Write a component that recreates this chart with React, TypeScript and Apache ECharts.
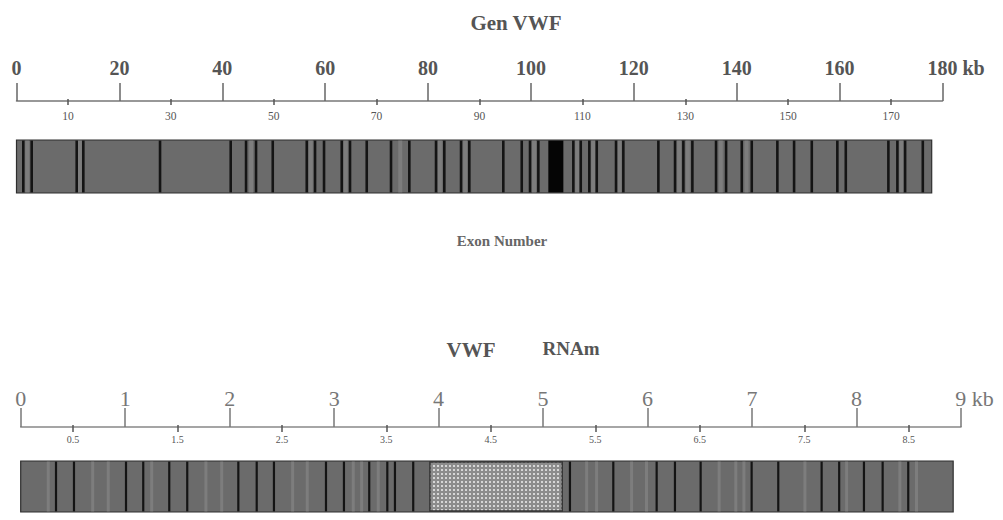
import React, { useEffect, useRef } from 'react';
import * as echarts from 'echarts';

// ---------- data ----------
const genTitle = 'Gen VWF';
const genMax = 180; // kb
const genMajorStep = 20;
const genMinorFirst = 10;
const genMinorLast = 170;
const genLength = 177.9;
const genExons = [1.32, 2.95, 11.7, 12.99, 27.9, 41.64, 44.62, 46.56, 49.81, 56.42, 58.03, 59.78, 63.22, 64.83, 68.08, 72.8, 76.36, 81.55, 83.16, 86.41, 88.02, 94.63, 98.21, 99.82, 101.44, 108.24, 109.68, 111.35, 112.79, 116.54, 117.96, 124.77, 128.01, 129.63, 131.38, 135.98, 137.93, 140.98, 142.92, 147.9, 151.15, 154.59, 159.56, 161.2, 169.48, 171.23, 172.73, 176.17];
const genLight = [2.1, 12.3, 45.6, 57.2, 64.0, 74.6, 82.3, 87.2, 100.6, 109.0, 112.1, 117.2, 128.8, 130.5, 136.9, 141.9, 172.0];
const genBlock = [103.38, 106.3];
const exonLabel = 'Exon Number';

const rnaTitleA = 'VWF';
const rnaTitleB = 'RNAm';
const rnaMax = 9; // kb
const rnaMajorStep = 1;
const rnaMinorFirst = 0.5;
const rnaMinorLast = 8.5;
const rnaLength = 8.925;
const rnaExons = [0.338, 0.51, 1.008, 1.173, 1.422, 1.594, 2.083, 2.259, 2.424, 2.922, 3.094, 3.336, 3.509, 3.582, 3.757, 5.257, 5.672, 6.087, 6.262, 6.508, 6.996, 7.251, 7.666, 7.834, 8.071, 8.25, 8.495];
const rnaLight = [0.264, 0.689, 0.838, 1.254, 1.773, 1.924, 2.603, 2.743, 3.183, 3.263, 3.422, 5.417, 5.512, 5.847, 5.99, 6.685, 6.845, 6.922, 7.506, 7.905, 8.415, 8.574];
const rnaHatch = [3.917, 5.183];
const unit = 'kb';

// ---------- layout ----------
const SERIF = '"Liberation Serif", "DejaVu Serif", serif';
const topLeft = 16.5;
const topWidth = 926;
const topAxisY = 101;
const botLeft = 20.7;
const botWidth = 940.3;
const botAxisY = 427;

export default function App() {
  const ref = useRef<HTMLDivElement>(null);

  useEffect(() => {
    if (!ref.current) return;
    const chart = echarts.init(ref.current, null, { renderer: 'svg' });

    const cv = document.createElement('canvas');
    cv.width = 4;
    cv.height = 4;
    const ctx = cv.getContext('2d');
    if (ctx) {
      ctx.fillStyle = '#8c8c8c';
      ctx.fillRect(0, 0, 4, 4);
      ctx.fillStyle = '#d6d6d6';
      ctx.fillRect(1, 1, 2, 2);
    }
    const pattern: any = { image: cv, repeat: 'repeat', imageWidth: 4, imageHeight: 4 };

    const topScale = topWidth / genMax;
    const botScale = botWidth / rnaMax;

    const makeRender = (lineW: number, lightW: number) => (params: any, api: any) => {
      const a = api.value(0);
      const b = api.value(1);
      const kind = api.value(2);
      const tl = api.coord([a, 1]);
      const br = api.coord([b, 0]);
      const y = tl[1];
      const h = br[1] - tl[1];
      if (kind === 0) {
        return { type: 'rect', shape: { x: tl[0], y, width: br[0] - tl[0], height: h }, style: { fill: '#6b6b6b', stroke: '#2e2e2e', lineWidth: 1.2 } };
      }
      if (kind === 1) {
        return { type: 'rect', shape: { x: tl[0] - lineW / 2, y: y + 0.6, width: lineW, height: h - 1.2 }, style: { fill: '#141414' } };
      }
      if (kind === 2) {
        return { type: 'rect', shape: { x: tl[0] - lightW / 2, y: y + 0.6, width: lightW, height: h - 1.2 }, style: { fill: '#7d7d7d' } };
      }
      if (kind === 3) {
        return { type: 'rect', shape: { x: tl[0], y: y + 0.6, width: br[0] - tl[0], height: h - 1.2 }, style: { fill: '#050505' } };
      }
      return { type: 'rect', shape: { x: tl[0], y: y + 1, width: br[0] - tl[0], height: h - 2 }, style: { fill: pattern, stroke: '#333', lineWidth: 1.5 } };
    };

    const genData: any[] = [[0, genLength, 0]];
    genLight.forEach((v) => genData.push([v, v, 2]));
    genExons.forEach((v) => genData.push([v, v, 1]));
    genData.push([genBlock[0], genBlock[1], 3]);

    const rnaData: any[] = [[0, rnaLength, 0]];
    rnaLight.forEach((v) => rnaData.push([v, v, 2]));
    rnaExons.forEach((v) => rnaData.push([v, v, 1]));
    rnaData.push([rnaHatch[0], rnaHatch[1], 4]);

    const hiddenY = (gi: number) => ({ type: 'value', gridIndex: gi, min: 0, max: 1, show: false });

    const option: any = {
      animation: false,
      backgroundColor: '#ffffff',
      grid: [
        { left: topLeft, top: topAxisY, width: topWidth, height: 0 },
        { left: topLeft + genMinorFirst * topScale, top: topAxisY - 2, width: (genMinorLast - genMinorFirst) * topScale, height: 0 },
        { left: topLeft, top: 140, width: topWidth, height: 53 },
        { left: botLeft, top: botAxisY, width: botWidth, height: 0 },
        { left: botLeft + rnaMinorFirst * botScale, top: botAxisY - 2, width: (rnaMinorLast - rnaMinorFirst) * botScale, height: 0 },
        { left: botLeft, top: 461, width: botWidth, height: 51 },
      ],
      xAxis: [
        {
          type: 'value', gridIndex: 0, position: 'top', min: 0, max: genMax, interval: genMajorStep,
          splitLine: { show: false },
          axisLine: { show: true, lineStyle: { color: '#777', width: 1.5 } },
          axisTick: { show: true, inside: false, length: 18, lineStyle: { color: '#666', width: 1.5 } },
          axisLabel: {
            margin: 23, color: '#555', fontFamily: SERIF, fontWeight: 'bold', fontSize: 20,
            formatter: (v: number) => (v === genMax ? `{s| }${v} ${unit}` : `${v}`),
            rich: { s: { width: 27 } },
          },
        },
        {
          type: 'value', gridIndex: 1, position: 'bottom', min: genMinorFirst, max: genMinorLast, interval: genMajorStep,
          splitLine: { show: false },
          axisLine: { show: false },
          axisTick: { show: true, inside: false, length: 6, lineStyle: { color: '#555', width: 1.5 } },
          axisLabel: { margin: 11, color: '#555', fontFamily: SERIF, fontSize: 11.5 },
        },
        { type: 'value', gridIndex: 2, min: 0, max: genMax, show: false },
        {
          type: 'value', gridIndex: 3, position: 'top', min: 0, max: rnaMax, interval: rnaMajorStep,
          splitLine: { show: false },
          axisLine: { show: true, lineStyle: { color: '#888', width: 1.5 } },
          axisTick: { show: true, inside: false, length: 19, lineStyle: { color: '#777', width: 1.5 } },
          axisLabel: {
            margin: 18, color: '#777', fontFamily: SERIF, fontSize: 22,
            formatter: (v: number) => (v === rnaMax ? `{s| }${v} ${unit}` : `${v}`),
            rich: { s: { width: 27 } },
          },
        },
        {
          type: 'value', gridIndex: 4, position: 'bottom', min: rnaMinorFirst, max: rnaMinorLast, interval: rnaMajorStep,
          splitLine: { show: false },
          axisLine: { show: false },
          axisTick: { show: true, inside: false, length: 7, lineStyle: { color: '#555', width: 1.5 } },
          axisLabel: { margin: 9, color: '#555', fontFamily: SERIF, fontSize: 10 },
        },
        { type: 'value', gridIndex: 5, min: 0, max: rnaMax, show: false },
      ],
      yAxis: [hiddenY(0), hiddenY(1), hiddenY(2), hiddenY(3), hiddenY(4), hiddenY(5)],
      title: [
        { text: genTitle, left: 511, top: 7, textAlign: 'center', textStyle: { fontFamily: SERIF, fontWeight: 'bold', fontSize: 21, color: '#555' } },
        { text: exonLabel, left: 497, top: 228, textAlign: 'center', textStyle: { fontFamily: SERIF, fontWeight: 'bold', fontSize: 15, color: '#666' } },
        { text: rnaTitleA, left: 466, top: 334, textAlign: 'center', textStyle: { fontFamily: SERIF, fontWeight: 'bold', fontSize: 21, color: '#555' } },
        { text: rnaTitleB, left: 566, top: 334, textAlign: 'center', textStyle: { fontFamily: SERIF, fontWeight: 'bold', fontSize: 19, color: '#555' } },
      ],
      series: [
        { type: 'custom', xAxisIndex: 2, yAxisIndex: 2, renderItem: makeRender(2.6, 4), data: genData, silent: true },
        { type: 'custom', xAxisIndex: 5, yAxisIndex: 5, renderItem: makeRender(2.2, 3), data: rnaData, silent: true },
      ],
    };

    chart.setOption(option);
    return () => chart.dispose();
  }, []);

  return <div ref={ref} style={{ position: 'fixed', left: 0, top: 0, width: 1003, height: 520 }} />;
}
